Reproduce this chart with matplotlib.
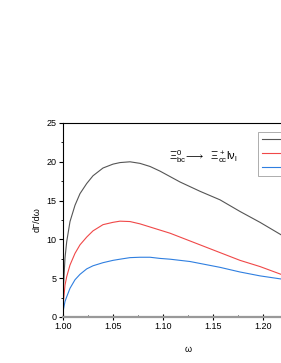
import matplotlib
matplotlib.use("Agg")
import matplotlib.pyplot as plt
from matplotlib.ticker import MultipleLocator, FixedLocator

plt.rcParams['font.family'] = ['Liberation Sans', 'DejaVu Sans']
plt.rcParams['mathtext.fontset'] = 'custom'
plt.rcParams['mathtext.rm'] = 'Liberation Sans'
plt.rcParams['mathtext.it'] = 'Liberation Sans'

# values
omega = [1.0000, 1.0005, 1.0020, 1.0037, 1.0070, 1.0120, 1.0170, 1.0237,
         1.0300, 1.0400, 1.0500, 1.0570, 1.0670, 1.0770, 1.0870, 1.0970,
         1.1070, 1.1170, 1.1270, 1.1370, 1.1570, 1.1770, 1.1970, 1.2180]
black = [0.0, 4.0, 7.6, 9.7, 12.3, 14.4, 15.9, 17.2,
         18.2, 19.2, 19.7, 19.9, 20.0, 19.8, 19.4, 18.8,
         18.1, 17.4, 16.8, 16.2, 15.1, 13.6, 12.2, 10.6]
red = [0.0, 2.1, 4.1, 5.2, 6.7, 8.2, 9.3, 10.3,
       11.1, 11.9, 12.2, 12.35, 12.3, 12.0, 11.6, 11.2,
       10.8, 10.3, 9.8, 9.3, 8.3, 7.3, 6.5, 5.5]
blue = [0.0, 1.0, 2.0, 2.6, 3.7, 4.8, 5.5, 6.2,
        6.6, 7.0, 7.3, 7.45, 7.65, 7.7, 7.7, 7.55,
        7.45, 7.3, 7.15, 6.9, 6.4, 5.8, 5.3, 4.9]
xticks = [1.00, 1.05, 1.10, 1.15, 1.20]

fig = plt.figure(figsize=(2.81, 3.63), dpi=100)
ax = fig.add_axes([63/281, 46/363, 250/281, 194/363])

l1, = ax.plot(omega, black, color='#555555', lw=0.8)
l2, = ax.plot(omega, red, color='#f04848', lw=0.8)
l3, = ax.plot(omega, blue, color='#2f7fe0', lw=0.8)

ax.set_xlim(1.0, 1.25)
ax.set_ylim(0, 25)
ax.xaxis.set_major_locator(FixedLocator(xticks))
ax.xaxis.set_minor_locator(MultipleLocator(0.025))
ax.yaxis.set_major_locator(MultipleLocator(5))
ax.yaxis.set_minor_locator(MultipleLocator(2.5))
ax.xaxis.set_major_formatter(plt.FormatStrFormatter('%.2f'))

ax.tick_params(axis='y', which='major', direction='out', length=3, width=0.8, labelsize=6.5, pad=1.5)
ax.tick_params(axis='y', which='minor', direction='out', length=1.5, width=0.6)
ax.tick_params(axis='x', which='major', direction='inout', length=4, width=0.8, labelsize=6.5, pad=1.5)
ax.tick_params(axis='x', which='minor', direction='in', length=1.5, width=0.6)
ax.spines['bottom'].set_color('#999999')
ax.spines['bottom'].set_linewidth(1.6)
for s in ['left', 'top', 'right']:
    ax.spines[s].set_linewidth(0.8)

ax.set_xlabel('ω', fontsize=6.5, labelpad=10)
ax.set_ylabel('dΓ/dω', fontsize=6.5, labelpad=4)

ax.text(1.106, 20.7, r'$\Xi^0_{bc}\!\longrightarrow\ \ \Xi^+_{cc}l\nu_l$',
        fontsize=8, ha='left', va='center')

leg = ax.legend([l1, l2, l3], [' ', ' ', ' '], loc='upper left',
                bbox_to_anchor=(195/250, 185/194), fontsize=6,
                frameon=True, fancybox=False, edgecolor='#888888', handlelength=4,
                borderpad=0.5, labelspacing=0.75, borderaxespad=0)
leg.get_frame().set_linewidth(0.6)

fig.savefig('out.png', dpi=100)
